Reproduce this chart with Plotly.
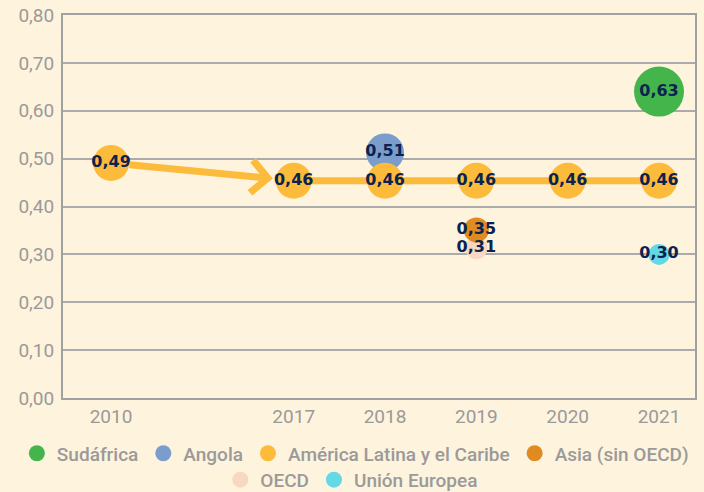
import plotly.graph_objects as go

# ---- data ----
year_labels = ["2010", "2017", "2018", "2019", "2020", "2021"]
year_pos = [0, 2, 3, 4, 5, 6]          # 2010 sits two slots left of 2017

alc_years = ["2010", "2017", "2018", "2019", "2020", "2021"]
alc_values = [0.491, 0.454, 0.454, 0.454, 0.454, 0.454]
alc_labels = ["0,49", "0,46", "0,46", "0,46", "0,46", "0,46"]

sud_years = ["2021"]; sud_values = [0.64]; sud_labels = ["0,63"]
ang_years = ["2018"]; ang_values = [0.513]; ang_labels = ["0,51"]
asia_years = ["2019"]; asia_values = [0.351]; asia_labels = ["0,35"]
oecd_years = ["2019"]; oecd_values = [0.313]; oecd_labels = ["0,31"]
eu_years = ["2021"]; eu_values = [0.30]; eu_labels = ["0,30"]

y_ticks = [0.0, 0.1, 0.2, 0.3, 0.4, 0.5, 0.6, 0.7, 0.8]
y_ticktext = ["0,00", "0,10", "0,20", "0,30", "0,40", "0,50", "0,60", "0,70", "0,80"]

pos = dict(zip(year_labels, year_pos))
def px(years):
    return [pos[y] for y in years]

BG = "#FEF3DD"
GRID = "#ABABAB"
TICK = "#9A9A9A"
LABEL = "#0C2250"
ALC_C = "#FDBB3B"

series = [
    # name, years, values, labels, color, size, legendrank, legend
    ("OECD", oecd_years, oecd_values, oecd_labels, "#F8D8C2", 22, 5, "legend2"),
    ("Unión Europea", eu_years, eu_values, eu_labels, "#63D9E6", 21, 6, "legend2"),
    ("Sudáfrica", sud_years, sud_values, sud_labels, "#43B54B", 50, 1, "legend"),
    ("Angola", ang_years, ang_values, ang_labels, "#7B9DCC", 38, 2, "legend"),
    ("América Latina y el Caribe", alc_years, alc_values, alc_labels, ALC_C, 36, 3, "legend"),
    ("Asia (sin OECD)", asia_years, asia_values, asia_labels, "#E08B20", 25, 4, "legend"),
]

fig = go.Figure()

# flat ALC line 2017-2021 (under the markers)
fig.add_trace(go.Scatter(
    x=px(alc_years[1:]), y=alc_values[1:], mode="lines",
    line=dict(color=ALC_C, width=7), showlegend=False, hoverinfo="skip"))

for name, yrs, vals, labs, col, size, rank, leg in series:
    fig.add_trace(go.Scatter(
        x=px(yrs), y=vals, mode="markers", name=name, legendrank=rank, legend=leg,
        marker=dict(color=col, size=size, line=dict(width=0))))

for name, yrs, vals, labs, col, size, rank, leg in series:
    fig.add_trace(go.Scatter(
        x=px(yrs), y=vals, mode="text", text=labs, textposition="middle center",
        textfont=dict(family="DejaVu Sans", size=16, color=LABEL, weight="bold"),
        showlegend=False, hoverinfo="skip"))

# arrow 2010 -> 2017
fig.add_annotation(
    x=pos[alc_years[1]], y=alc_values[1], ax=pos[alc_years[0]], ay=alc_values[0],
    xref="x", yref="y", axref="x", ayref="y", text="", showarrow=True,
    arrowhead=4, arrowsize=0.9, arrowwidth=7, arrowcolor=ALC_C,
    standoff=21, startstandoff=17)

legfont = dict(family="Roboto", size=19, color=TICK, weight=500)
fig.update_layout(
    width=704, height=492,
    paper_bgcolor=BG, plot_bgcolor=BG,
    margin=dict(l=63, r=9, t=15, b=94, autoexpand=False),
    font=dict(family="Roboto", color=TICK),
    showlegend=True,
    legend=dict(orientation="h", x=-0.073, xanchor="left", y=-0.095, yanchor="top",
                font=legfont, itemsizing="trace", bgcolor="rgba(0,0,0,0)"),
    legend2=dict(orientation="h", x=0.457, xanchor="center", y=-0.164, yanchor="top",
                 font=legfont, itemsizing="trace", bgcolor="rgba(0,0,0,0)"),
)
fig.update_xaxes(
    range=[-0.526, 6.394], tickvals=year_pos, ticktext=year_labels,
    showgrid=False, zeroline=False, showline=True, linecolor="#A0A0A0", linewidth=2,
    mirror=True, ticks="", ticklabelstandoff=0,
    tickfont=dict(family="Roboto", size=19, color=TICK))
fig.update_yaxes(
    range=[0, 0.8], tickvals=y_ticks, ticktext=y_ticktext,
    showgrid=True, gridcolor=GRID, gridwidth=1.5, zeroline=False,
    showline=True, linecolor="#A0A0A0", linewidth=2, mirror=True,
    ticks="", ticklabelstandoff=3,
    tickfont=dict(family="Roboto", size=19, color=TICK))

fig.write_html("out.html", config={"displayModeBar": False},
               post_script="document.body.style.margin='0';")
